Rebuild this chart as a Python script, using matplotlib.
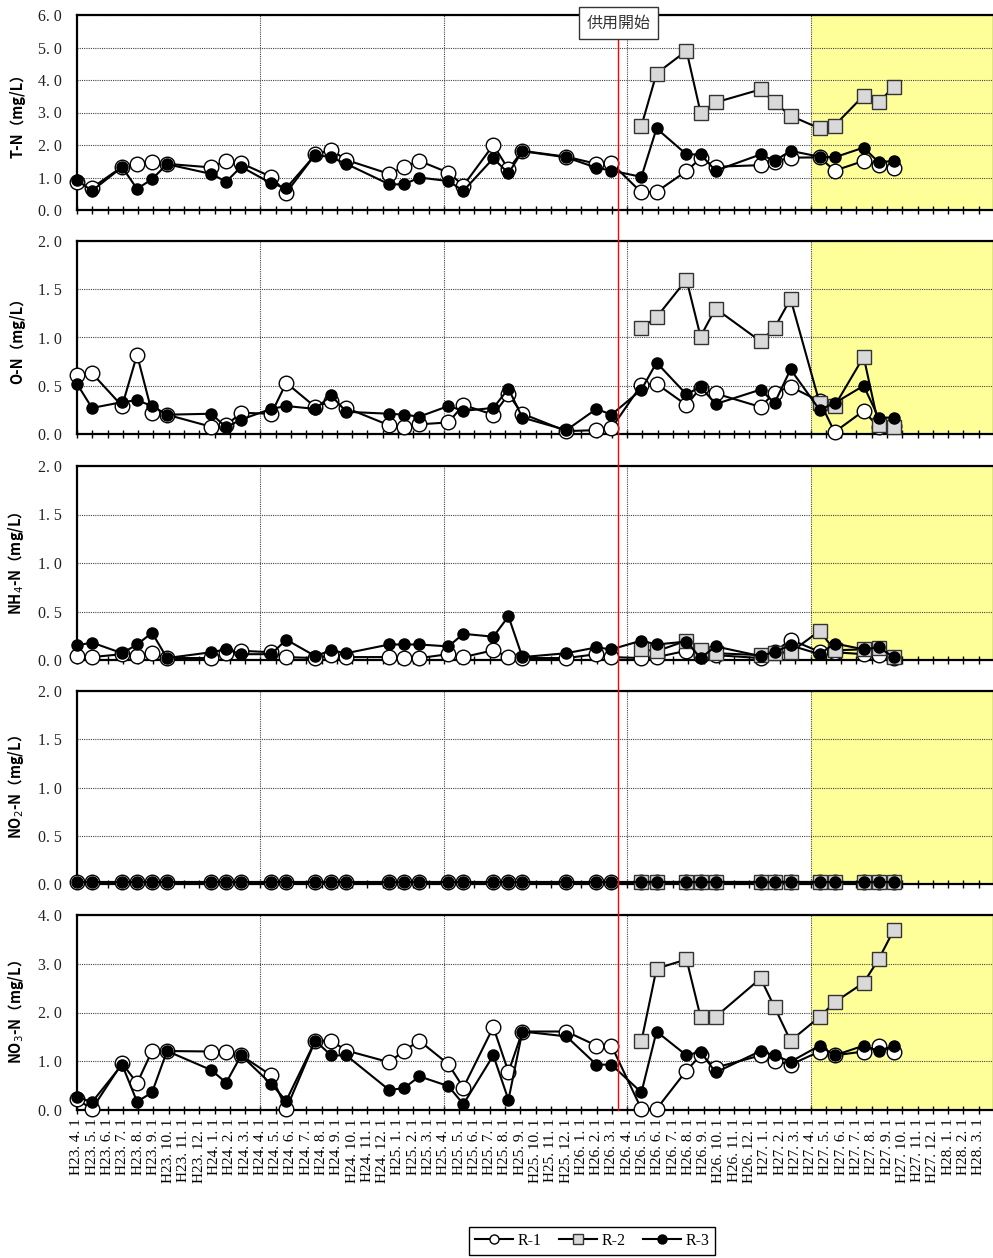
import matplotlib

matplotlib.use("Agg")
import matplotlib.pyplot as plt
import matplotlib.transforms as mtransforms
from matplotlib.lines import Line2D
from matplotlib.ticker import FuncFormatter
import numpy as np

plt.rcParams['font.family'] = ['Liberation Serif', 'Noto Sans CJK JP', 'DejaVu Sans']

# sampling times, in months counted from H23.4.1
sample_month = [0, 0.98, 2.95, 3.93, 4.91, 5.89, 8.78, 9.76, 10.74, 12.71,
                13.69, 15.59, 16.63, 17.62, 20.43, 21.41, 22.40, 24.30, 25.28, 27.24,
                28.23, 29.14, 32.02, 33.99, 34.97, 36.93, 37.92, 39.88, 40.80, 41.78,
                44.73, 45.64, 46.69, 48.59, 49.57, 51.47, 52.45, 53.44]
# R-2 only measured after operation start
sample_month_r2 = sample_month[25:]

start_month = 35.43   # 供用開始

tn_r1 = [0.85, 0.68, 1.33, 1.41, 1.49, 1.42, 1.31, 1.52, 1.44, 1.02,
         0.53, 1.71, 1.85, 1.54, 1.11, 1.33, 1.51, 1.15, 0.75, 2.0,
         1.25, 1.82, 1.64, 1.42, 1.44, 0.54, 0.56, 1.2, 1.59, 1.33,
         1.38, 1.49, 1.61, 1.62, 1.21, 1.51, 1.38, 1.3]
tn_r2 = [2.59, 4.2, 4.9, 3.0, 3.31, 3.71, 3.31, 2.9, 2.51, 2.6, 3.52, 3.31, 3.79]
tn_r3 = [0.92, 0.59, 1.32, 0.65, 0.95, 1.41, 1.11, 0.87, 1.33, 0.82,
         0.67, 1.70, 1.62, 1.42, 0.79, 0.79, 1.0, 0.89, 0.59, 1.59,
         1.13, 1.81, 1.62, 1.3, 1.21, 1.02, 2.51, 1.71, 1.71, 1.21,
         1.71, 1.51, 1.82, 1.64, 1.62, 1.92, 1.47, 1.51]

on_r1 = [0.61, 0.63, 0.29, 0.82, 0.22, 0.2, 0.075, 0.09, 0.22, 0.21,
         0.53, 0.28, 0.34, 0.27, 0.09, 0.07, 0.1, 0.12, 0.30, 0.2,
         0.41, 0.21, 0.03, 0.04, 0.06, 0.51, 0.52, 0.30, 0.48, 0.42,
         0.28, 0.43, 0.49, 0.34, 0.02, 0.24, 0.07, 0.08]
on_r2 = [1.1, 1.21, 1.6, 1.01, 1.30, 0.96, 1.1, 1.40, 0.32, 0.29, 0.80, 0.09, 0.07]
on_r3 = [0.52, 0.27, 0.33, 0.35, 0.29, 0.2, 0.21, 0.07, 0.15, 0.26,
         0.29, 0.26, 0.40, 0.23, 0.21, 0.2, 0.18, 0.29, 0.24, 0.27,
         0.47, 0.17, 0.04, 0.26, 0.2, 0.46, 0.74, 0.41, 0.49, 0.31,
         0.46, 0.32, 0.67, 0.25, 0.32, 0.50, 0.17, 0.17]

nh4_r1 = [0.04, 0.03, 0.06, 0.04, 0.07, 0.02, 0.02, 0.07, 0.095, 0.08,
          0.03, 0.02, 0.05, 0.03, 0.03, 0.02, 0.02, 0.06, 0.03, 0.10,
          0.03, 0.02, 0.02, 0.06, 0.03, 0.02, 0.03, 0.095, 0.04, 0.05,
          0.02, 0.08, 0.21, 0.085, 0.08, 0.06, 0.05, 0.02]
nh4_r2 = [0.11, 0.09, 0.20, 0.10, 0.07, 0.05, 0.075, 0.08, 0.30, 0.10, 0.11, 0.12, 0.03]
nh4_r3 = [0.15, 0.18, 0.07, 0.16, 0.28, 0.02, 0.08, 0.11, 0.06, 0.06,
          0.21, 0.04, 0.10, 0.07, 0.16, 0.16, 0.16, 0.14, 0.27, 0.24,
          0.45, 0.03, 0.07, 0.13, 0.11, 0.20, 0.16, 0.19, 0.02, 0.14,
          0.04, 0.085, 0.15, 0.06, 0.17, 0.11, 0.13, 0.03]

no2_r1 = [0.02, 0.02, 0.02, 0.02, 0.02, 0.02, 0.02, 0.02, 0.02, 0.02,
          0.02, 0.02, 0.02, 0.02, 0.02, 0.02, 0.02, 0.02, 0.02, 0.02,
          0.02, 0.02, 0.02, 0.02, 0.02, 0.02, 0.02, 0.02, 0.02, 0.02,
          0.02, 0.02, 0.02, 0.02, 0.02, 0.02, 0.02, 0.02]
no2_r2 = [0.02, 0.02, 0.02, 0.02, 0.02, 0.02, 0.02, 0.02, 0.02, 0.02, 0.02, 0.02, 0.02]
no2_r3 = [0.02, 0.02, 0.02, 0.02, 0.02, 0.02, 0.02, 0.02, 0.02, 0.02,
          0.02, 0.02, 0.02, 0.02, 0.02, 0.02, 0.02, 0.02, 0.02, 0.02,
          0.02, 0.02, 0.02, 0.02, 0.02, 0.02, 0.02, 0.02, 0.02, 0.02,
          0.02, 0.02, 0.02, 0.02, 0.02, 0.02, 0.02, 0.02]

no3_r1 = [0.22, 0.02, 0.96, 0.55, 1.21, 1.21, 1.2, 1.2, 1.12, 0.71,
          0.02, 1.42, 1.42, 1.22, 0.98, 1.22, 1.42, 0.94, 0.46, 1.70,
          0.78, 1.61, 1.61, 1.32, 1.32, 0.02, 0.02, 0.81, 1.12, 0.87,
          1.12, 1.01, 0.93, 1.2, 1.12, 1.2, 1.32, 1.2]
no3_r2 = [1.41, 2.90, 3.09, 1.91, 1.91, 2.70, 2.11, 1.42, 1.91, 2.21, 2.61, 3.09, 3.69]
no3_r3 = [0.27, 0.16, 0.93, 0.17, 0.36, 1.21, 0.82, 0.56, 1.12, 0.53,
          0.19, 1.42, 1.12, 1.12, 0.41, 0.45, 0.69, 0.49, 0.12, 1.12,
          0.21, 1.61, 1.51, 0.93, 0.93, 0.36, 1.61, 1.12, 1.2, 0.77,
          1.21, 1.12, 0.99, 1.32, 1.12, 1.32, 1.21, 1.32]

# month tick labels H23.4.1 ... H28.3.1
month_labels = []
for i in range(60):
    year = 23 + (i + 3) // 12
    month = (i + 3) % 12 + 1
    month_labels.append(f"H{year}. {month}. 1")

panels = [
    ("T-N（mg/L）", 6.0, 1.0, tn_r1, tn_r2, tn_r3),
    ("O-N（mg/L）", 2.0, 0.5, on_r1, on_r2, on_r3),
    ("NH$_4$-N（mg/L）", 2.0, 0.5, nh4_r1, nh4_r2, nh4_r3),
    ("NO$_2$-N（mg/L）", 2.0, 0.5, no2_r1, no2_r2, no2_r3),
    ("NO$_3$-N（mg/L）", 4.0, 1.0, no3_r1, no3_r2, no3_r3),
]
# panel top / bottom in pixels
panel_px = [(15, 210), (241, 434), (466, 660), (691, 884), (915, 1110)]

W, H = 993, 1258
fig = plt.figure(figsize=(W / 100, H / 100), dpi=100)

grid_style = dict(color='#444444', lw=0.8, ls=(0, (1, 1)))
axes = []
for (label, ymax, ystep, r1, r2, r3), (top, bottom) in zip(panels, panel_px):
    ax = fig.add_axes([77 / W, 1 - bottom / H, (994 - 77) / W, (bottom - top) / H])
    axes.append(ax)
    ax.axvspan(48, 60, color='#FFFF99', lw=0, zorder=0)
    for m in (12, 24, 36, 48):
        ax.axvline(m, zorder=0.6, **grid_style)
    ax.set_axisbelow(True)
    ax.yaxis.grid(True, **grid_style)

    ax.plot(sample_month, r1, '-o', color='black', mfc='white', mec='black',
            ms=10.5, mew=1, lw=1.5, zorder=3, clip_on=False)
    ax.plot(sample_month_r2, r2, '-s', color='black', mfc='#d9d9d9', mec='#333333',
            ms=9.5, mew=1, lw=1.5, zorder=4, clip_on=False)
    ax.plot(sample_month, r3, '-o', color='black', mfc='black', mec='black',
            ms=8, lw=1.5, zorder=5, clip_on=False)

    ax.set_xlim(0, 60)
    ax.set_ylim(0, ymax)
    ax.set_yticks(np.arange(0, ymax + ystep / 2, ystep))
    ax.yaxis.set_major_formatter(FuncFormatter(lambda v, p: f"{v:.1f}".replace('.', '. ')))
    ax.set_xticks(range(60))
    ax.set_xticklabels(month_labels, rotation=90, va='top', ha='center', fontsize=11)
    ax.tick_params(axis='x', direction='inout', length=6, width=1, pad=3,
                   labelbottom=(top == 915))
    ax.tick_params(axis='y', length=0, pad=11, labelsize=11.5, labelcolor='#222222')
    for sp in ax.spines.values():
        sp.set_linewidth(1.6)
    ax.set_ylabel(label, family=['Noto Sans CJK JP', 'DejaVu Sans'], fontsize=10.5,
                  fontweight='bold')
    ax.yaxis.set_label_coords(-0.056, 0.5)

# operation start line through all panels
trans = mtransforms.blended_transform_factory(axes[-1].transData, fig.transFigure)
fig.add_artist(Line2D([start_month, start_month], [1 - 1110 / H, 1 - 38 / H],
                      transform=trans, color='red', lw=1, zorder=10))
fig.text(start_month, 1 - 23 / H, '供用開始', transform=trans, ha='center', va='center',
         family=['Noto Sans CJK JP'], fontsize=11.5, color='#333333', zorder=11,
         bbox=dict(boxstyle='square,pad=0.5', fc='white', ec='#333333', lw=1))

handles = [
    Line2D([], [], color='black', marker='o', mfc='white', mec='black', ms=6.5, lw=1.5),
    Line2D([], [], color='black', marker='s', mfc='#d9d9d9', mec='#333333', ms=6.5, lw=1.5),
    Line2D([], [], color='black', marker='o', mfc='black', ms=6.5, lw=1.5),
]
leg = fig.legend(handles, ['R-1', 'R-2', 'R-3'], loc='center',
                 bbox_to_anchor=(592 / W, 1 - 1241 / H), ncol=3, frameon=True,
                 fancybox=False, edgecolor='black', framealpha=1,
                 prop={'family': 'Liberation Serif', 'size': 11.5},
                 handlelength=2.4, handletextpad=0.25, columnspacing=1.1, borderpad=0.35)
leg.get_frame().set_linewidth(1)

fig.savefig("out.png", dpi=100)
